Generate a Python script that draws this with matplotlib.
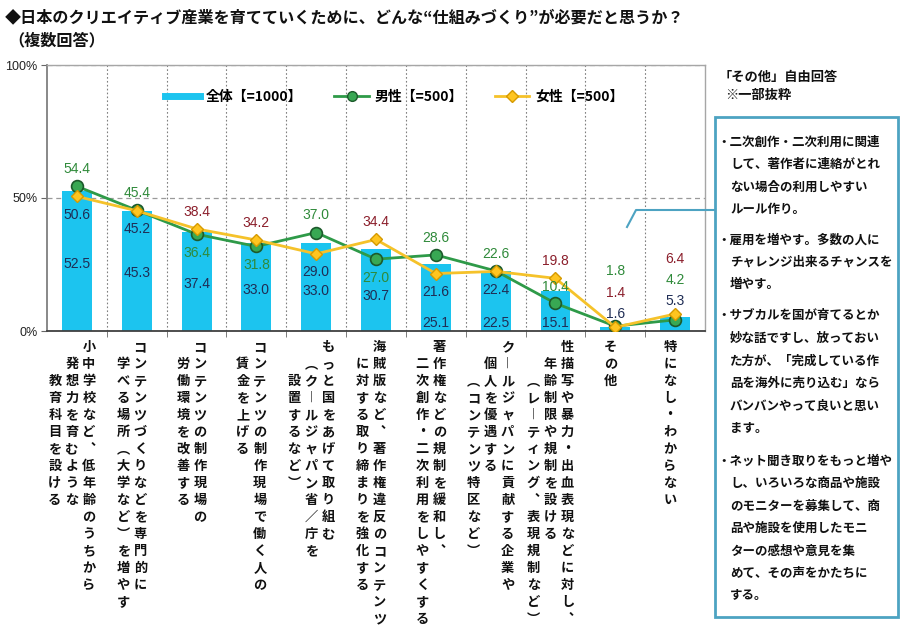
import matplotlib
matplotlib.use('Agg')
import matplotlib.pyplot as plt
from matplotlib.lines import Line2D
from matplotlib.patches import Rectangle
import numpy as np

plt.rcParams['font.family'] = ['Noto Sans CJK JP', 'DejaVu Sans']

# ---------------- data ----------------
title_line1 = "◆日本のクリエイティブ産業を育てていくために、どんな“仕組みづくり”が必要だと思うか？"
title_line2 = "（複数回答）"

cat_labels = [
    ["小中学校など、低年齢のうちから", "発想力を育むような", "教育科目を設ける"],
    ["コンテンツづくりなどを専門的に", "学べる場所（大学など）を増やす"],
    ["コンテンツの制作現場の", "労働環境を改善する"],
    ["コンテンツの制作現場で働く人の", "賃金を上げる"],
    ["もっと国をあげて取り組む", "（クールジャパン省／庁を", "設置するなど）"],
    ["海賊版など、著作権違反のコンテンツ", "に対する取り締まりを強化する"],
    ["著作権などの規制を緩和し、", "二次創作・二次利用をしやすくする"],
    ["クールジャパンに貢献する企業や", "個人を優遇する", "（コンテンツ特区など）"],
    ["性描写や暴力・出血表現などに対し、", "年齢制限や規制を設ける", "（レーティング、表現規制など）"],
    ["その他"],
    ["特になし・わからない"],
]

total = [52.5, 45.3, 37.4, 33.0, 33.0, 30.7, 25.1, 22.5, 15.1, 1.6, 5.3]
male = [54.4, 45.4, 36.4, 31.8, 37.0, 27.0, 28.6, 22.6, 10.4, 1.8, 4.2]
female = [50.6, 45.2, 38.4, 34.2, 29.0, 34.4, 21.6, 22.4, 19.8, 1.4, 6.4]

series_names = ["全体【=1000】", "男性【=500】", "女性【=500】"]
ytick_vals = [0, 50, 100]
ytick_labels = ["0%", "50%", "100%"]

note_header = ["「その他」自由回答", "※一部抜粋"]
note_paragraphs = [
    ["・二次創作・二次利用に関連", "して、著作者に連絡がとれ", "ない場合の利用しやすい", "ルール作り。"],
    ["・雇用を増やす。多数の人に", "チャレンジ出来るチャンスを", "増やす。"],
    ["・サブカルを国が育てるとか", "妙な話ですし、放っておい", "た方が、「完成している作",
     "品を海外に売り込む」なら", "バンバンやって良いと思い", "ます。"],
    ["・ネット聞き取りをもっと増や", "し、いろいろな商品や施設", "のモニターを募集して、商",
     "品や施設を使用したモニ", "ターの感想や意見を集", "めて、その声をかたちに", "する。"],
]

# ---------------- styles ----------------
BAR_C = '#1CC4EF'
MALE_C = '#2E9A48'
FEMALE_C = '#F5C22A'
MALE_TXT = '#2F8A3A'
FEMALE_TXT = '#8B1E2B'
TOTAL_TXT = '#1F2D55'
BOX_C = '#4DA3C2'
NUM_FONT = 'Liberation Sans'

W, H = 900, 643
fig = plt.figure(figsize=(W / 100, H / 100), dpi=100)
ax = fig.add_axes([47 / W, 1 - 331 / H, 658 / W, 266 / H])

x = np.arange(len(total))
ax.bar(x, total, width=0.5, color=BAR_C, zorder=2)
ax.plot(x, male, color=MALE_C, lw=2, marker='o', ms=8.5, mfc='#38A853',
        mec='#1C5A2B', mew=1.2, zorder=4)
ax.plot(x, female, color=FEMALE_C, lw=2, marker='D', ms=6.5, mfc='#FFC520',
        mec='#D69A00', mew=1, zorder=5)

ax.set_xlim(-0.5, len(total) - 0.5)
ax.set_ylim(0, 100)
ax.set_yticks(ytick_vals)
ax.set_yticklabels(ytick_labels, fontfamily=NUM_FONT, fontsize=9, color='#222222')
ax.tick_params(axis='y', length=4, direction='out', color='#666666', pad=3)
ax.set_xticks([])
ax.set_xticks(np.arange(0.5, len(total) - 1, 1), minor=True)
ax.tick_params(axis='x', which='minor', length=4, direction='out', color='#666666',
               labelbottom=False)
ax.grid(which='minor', axis='x', color='#7F7F7F', ls=(0, (1.5, 2)), lw=0.8, zorder=1)
ax.grid(which='major', axis='y', color='#9A9A9A', ls=(0, (4, 3)), lw=0.9, zorder=1)
ax.set_axisbelow(True)
ax.spines['left'].set_color('#7F7F7F')
ax.spines['left'].set_linewidth(1.3)
ax.spines['bottom'].set_color('#404040')
ax.spines['bottom'].set_linewidth(1.3)
for s in ('top', 'right'):
    ax.spines[s].set_color('#A6A6A6')
    ax.spines[s].set_linewidth(1.0)

# ---------------- data labels ----------------
for i, (t, m, f) in enumerate(zip(total, male, female)):
    hi, lo = max(m, f), min(m, f)
    if hi > 15 and lo > 15:
        y_hi = hi + 6.5
        y_lo = lo - 7
        y_tot = min(t / 2 - 1, y_lo - 7)
        if y_tot < 10:
            y_tot = 3
    elif hi > 15:
        y_hi = hi + 6.5
        y_lo = lo + 6
        y_tot = 3
    else:
        y_tot = hi + 4.7
        y_lo = y_tot + 7.9
        y_hi = y_tot + 15.9
    ym = y_hi if m >= f else y_lo
    yf = y_hi if f > m else y_lo
    fcol = TOTAL_TXT if yf < t else FEMALE_TXT
    ax.text(i, ym, f"{m:.1f}", ha='center', va='center', fontsize=10,
            fontfamily=NUM_FONT, color=MALE_TXT, zorder=6)
    ax.text(i, yf, f"{f:.1f}", ha='center', va='center', fontsize=10,
            fontfamily=NUM_FONT, color=fcol, zorder=6)
    ax.text(i, y_tot, f"{t:.1f}", ha='center', va='center', fontsize=10,
            fontfamily=NUM_FONT, color=TOTAL_TXT, zorder=6)

# ---------------- legend ----------------
handles = [
    Line2D([], [], color=BAR_C, lw=5),
    Line2D([], [], color=MALE_C, lw=2, marker='o', ms=7, mfc='#38A853', mec='#1C5A2B'),
    Line2D([], [], color=FEMALE_C, lw=2, marker='D', ms=6, mfc='#FFC520', mec='#D69A00'),
]
leg = ax.legend(handles, series_names, loc='center', bbox_to_anchor=(0.528, 0.88),
                ncol=3, frameon=False, handlelength=2.5, columnspacing=2.3,
                handletextpad=0.4, prop={'size': 10, 'weight': 'bold'})

# ---------------- vertical category labels ----------------
STEP = 17
VERT = {'（': '︵', '）': '︶', 'ー': '︱', '、': '︑'}
for i, cols in enumerate(cat_labels):
    n = len(cols)
    for j, col in enumerate(cols):
        dx = -5 + ((n - 1) / 2 - j) * STEP
        for r, ch in enumerate(col):
            dy = -(16 + STEP * (r + j))
            ax.annotate(VERT.get(ch, ch), xy=(i, 0), xycoords=ax.get_xaxis_transform(),
                        xytext=(dx, dy), textcoords='offset pixels',
                        ha='center', va='center', fontsize=9.5, fontweight='bold',
                        color='#111111', annotation_clip=False)

# ---------------- titles ----------------
def ftext(px, py, s, **kw):
    fig.text(px / W, 1 - py / H, s, va='center', ha='left', **kw)

ftext(5, 17, title_line1, fontsize=11.6, fontweight='bold', color='#111111')
ftext(8, 40, title_line2, fontsize=11.6, fontweight='bold', color='#111111')

# ---------------- note box ----------------
ftext(719, 77, note_header[0], fontsize=9.5, fontweight='bold', color='#111111')
ftext(725, 95, note_header[1], fontsize=9.5, fontweight='bold', color='#111111')

fig.add_artist(Rectangle((715 / W, 1 - 617 / H), 183 / W, 500 / H, transform=fig.transFigure,
                         fill=False, edgecolor=BOX_C, lw=2))
fig.add_artist(Line2D([627 / W, 636 / W, 715 / W], [1 - 227 / H, 1 - 210 / H, 1 - 210 / H],
                      transform=fig.transFigure, color=BOX_C, lw=1.5))

para_start = [142, 240, 316, 461]
PITCH = 22.5
for p, lines in zip(para_start, note_paragraphs):
    for k, line in enumerate(lines):
        xx = 717 if k == 0 else 730
        ftext(xx, p + k * PITCH, line, fontsize=9, fontweight='bold', color='#111111')

fig.savefig('out.png', dpi=100)
